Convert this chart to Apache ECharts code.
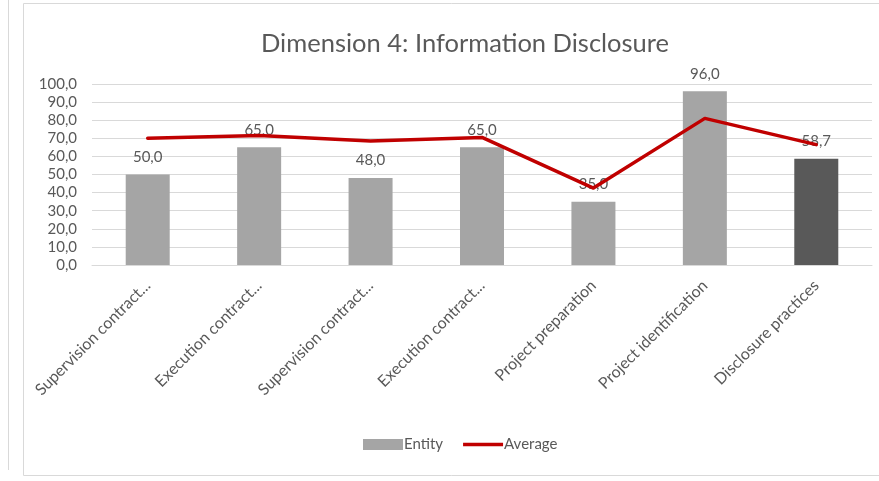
<!DOCTYPE html>
<html>
<head>
<meta charset="utf-8">
<script src="https://cdn.jsdelivr.net/npm/echarts@6/dist/echarts.min.js"></script>
<style>
  html, body { margin: 0; padding: 0; background: #fff; }
  #chart { width: 879px; height: 481px; }
</style>
</head>
<body>
<div id="chart"></div>
<script>
// chart data
const categories = [
  'Supervision contract...',
  'Execution contract...',
  'Supervision contract...',
  'Execution contract...',
  'Project preparation',
  'Project identification',
  'Disclosure practices'
]
const entityValues = [50, 65, 48, 65, 35, 96, 58.7]
const averageValues = [70, 71.5, 68.5, 70.5, 42.5, 81, 66.5]
const barColors = ['#a5a5a5', '#a5a5a5', '#a5a5a5', '#a5a5a5', '#a5a5a5', '#a5a5a5', '#595959']

const fmt = (v) => Number(v).toFixed(1).replace('.', ',')
const fontFam = 'Lato, "Open Sans", sans-serif'

const myChart = echarts.init(document.getElementById('chart'))
const option = {
  animation: false,
  textStyle: { fontFamily: fontFam },
  title: {
    text: 'Dimension 4: Information Disclosure',
    left: 460,
    textAlign: 'center',
    top: 26,
    textStyle: { color: '#595959', fontSize: 25.5, fontWeight: 'normal', fontFamily: fontFam }
  },
  graphic: [
    { type: 'rect', shape: { x: 23.5, y: 3.5, width: 900, height: 472 }, style: { fill: 'none', stroke: '#d9d9d9', lineWidth: 1 } },
    { type: 'line', shape: { x1: 8.5, y1: 0, x2: 8.5, y2: 470 }, style: { stroke: '#d9d9d9', lineWidth: 1 } }
  ],
  grid: { left: 92, right: 7, top: 84, bottom: 216, containLabel: false },
  legend: {
    bottom: 24,
    left: 358,
    itemWidth: 40,
    itemHeight: 11,
    itemGap: 20,
    symbolKeepAspect: true,
    textStyle: { color: '#595959', fontSize: 15, padding: [0, 0, 0, -4] },
    data: [
      { name: 'Entity', icon: 'rect', itemStyle: { color: '#a5a5a5' } },
      { name: 'Average', icon: 'path://M0,0 L40,0 L40,3.5 L0,3.5 Z', itemStyle: { color: '#c00000' } }
    ]
  },
  xAxis: {
    type: 'category',
    data: categories,
    axisTick: { show: false },
    axisLine: { show: true, lineStyle: { color: '#d9d9d9' } },
    axisLabel: { rotate: 45, color: '#595959', fontSize: 16, margin: 18, interval: 0 }
  },
  yAxis: {
    type: 'value',
    min: 0,
    max: 100,
    interval: 10,
    axisLine: { show: false },
    axisTick: { show: false },
    axisLabel: { color: '#595959', fontSize: 15, margin: 15, formatter: fmt },
    splitLine: { lineStyle: { color: '#d9d9d9', width: 1 } }
  },
  series: [
    {
      name: 'Entity',
      type: 'bar',
      data: entityValues.map((v, i) => ({ value: v, itemStyle: { color: barColors[i] } })),
      barWidth: 44,
      itemStyle: { color: '#a5a5a5' },
      label: { show: true, position: 'top', distance: 10, color: '#595959', fontSize: 15, formatter: (p) => fmt(p.value) }
    },
    {
      name: 'Average',
      type: 'line',
      data: averageValues,
      symbol: 'none',
      lineStyle: { color: '#c00000', width: 3.5, join: 'round', cap: 'round' },
      itemStyle: { color: '#c00000' }
    }
  ]
}
myChart.setOption(option)
</script>
</body>
</html>
